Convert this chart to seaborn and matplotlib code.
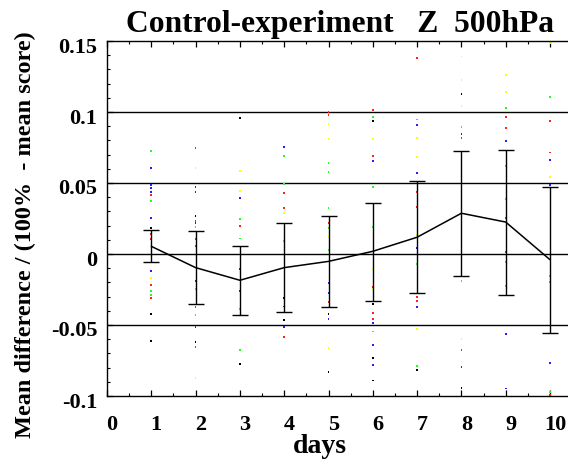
import matplotlib
matplotlib.use("Agg")
import matplotlib.pyplot as plt
import matplotlib.transforms as mtransforms
from matplotlib.ticker import MultipleLocator, FixedLocator
import numpy as np
import pandas as pd
import seaborn as sns

# Forecast days and the mean score difference with its confidence range
days = [1, 2, 3, 4, 5, 6, 7, 8, 9, 10]
mean_diff = [0.0054, -0.0096, -0.0185, -0.0096, -0.0052, 0.0019, 0.0118, 0.0287, 0.0225, -0.0040]
upper = [0.0167, 0.0162, 0.0058, 0.0216, 0.0268, 0.0361, 0.0512, 0.0728, 0.0735, 0.0472]
lower = [-0.0054, -0.0352, -0.0427, -0.0406, -0.0371, -0.0329, -0.0275, -0.0157, -0.0289, -0.0558]

# Individual case differences (day, value, colour code)
case_day = (
    [1] * 19 + [2] * 18 + [3] * 12 + [4] * 13 + [5] * 18
    + [6] * 20 + [7] * 17 + [8] * 17 + [9] * 14 + [10] * 12
)
case_value = [
    0.0723, 0.0604, 0.0488, 0.0463, 0.0439, 0.0415, 0.0371, 0.0251, 0.0183, 0.0141,
    0.0106, -0.0122, -0.0171, -0.0216, -0.0261, -0.0289, -0.0312, -0.0425, -0.0613,
    0.0746, 0.0608, 0.0470, 0.0434, 0.0270, 0.0235, 0.0216, 0.0188, 0.0106, 0.0058,
    -0.0190, -0.0246, -0.0371, -0.0430, -0.0512, -0.0622, -0.0657, -0.0875,
    0.0960, 0.0587, 0.0446, 0.0392, 0.0246, 0.0195, 0.0110, -0.0106, -0.0258, -0.0387,
    -0.0676, -0.0772,
    0.0754, 0.0688, 0.0491, 0.0430, 0.0326, 0.0289, 0.0094, 0.0024, -0.0310, -0.0370,
    -0.0463, -0.0512, -0.0585,
    0.0998, 0.0979, 0.0913, 0.0808, 0.0639, 0.0575, 0.0324, 0.0216, 0.0183, 0.0122,
    0.0028, -0.0204, -0.0275, -0.0340, -0.0423, -0.0458, -0.0664, -0.0833,
    0.1016, 0.0967, 0.0939, 0.0808, 0.0690, 0.0653, 0.0470, 0.0188, -0.0106, -0.0235,
    -0.0249, -0.0352, -0.0418, -0.0458, -0.0484, -0.0545, -0.0639, -0.0735, -0.0784, -0.0890,
    0.1382, 0.0948, 0.0911, 0.0815, 0.0685, 0.0568, 0.0434, 0.0329, 0.0134, 0.0040,
    -0.0070, -0.0305, -0.0329, -0.0371, -0.0528, -0.0787, -0.0819,
    0.1390, 0.1225, 0.1125, 0.1040, 0.0897, 0.0843, 0.0815, 0.0481, 0.0394, 0.0206,
    0.0125, -0.0087, -0.0190, -0.0599, -0.0678, -0.0798, -0.0941,
    0.1258, 0.1143, 0.1030, 0.0965, 0.0887, 0.0798, 0.0622, 0.0387, 0.0254, 0.0012,
    -0.0059, -0.0223, -0.0563, -0.0948,
    0.1484, 0.1103, 0.0939, 0.0714, 0.0660, 0.0540, 0.0486, -0.0153, -0.0199, -0.0768,
    -0.0970, -0.0993,
]
case_color = list(
    "gbbbbrgbkrrbyrggrkk"
    "rybbkrbgrrbgrgbkry"
    "kyybgrgbbggk"
    "bggrrygykbkbr"
    "rryygggrgygbbrkbyk"
    "rgkyrbggyrykrrbgbkbk"
    "rgbyybrrybgrrbygk"
    "yykygbrggrbrgyrbk"
    "yygrrbggrrggbb"
    "ygrrbybggbgr"
)

x_ticks = [0, 1, 2, 3, 4, 5, 6, 7, 8, 9, 10]
y_ticks = [-0.1, -0.05, 0, 0.05, 0.1, 0.15]
y_tick_labels = ["-0.1", "-0.05", "0", "0.05", "0.1", "0.15"]
grid_levels = [-0.05, 0, 0.05, 0.1]

sns.set_theme(style="ticks")
plt.rcParams["font.family"] = ["Liberation Serif", "DejaVu Serif"]
plt.rcParams["font.weight"] = "bold"
plt.rcParams["text.color"] = "black"
plt.rcParams["axes.labelcolor"] = "black"
plt.rcParams["xtick.color"] = "black"
plt.rcParams["ytick.color"] = "black"
plt.rcParams["xtick.labelcolor"] = "black"
plt.rcParams["ytick.labelcolor"] = "black"

summary = pd.DataFrame({"day": days, "mean": mean_diff, "lower": lower, "upper": upper})
cases = pd.DataFrame({"day": case_day, "value": case_value, "colour": case_color})

fig = plt.figure(figsize=(5.68, 4.60), dpi=100)
fig.patch.set_facecolor("white")
ax = fig.add_axes([107 / 568, 63 / 460, 461 / 568, 355 / 460])
ax.set_facecolor("white")

for lev in grid_levels:
    ax.axhline(lev, color="black", lw=1.0, zorder=1)

palette = {"r": "#ff2020", "g": "#20ff20", "b": "#2020ff", "y": "#ffff00", "k": "#000000"}
sns.scatterplot(data=cases, x="day", y="value", hue="colour", palette=palette,
                marker="s", s=1.6, linewidth=0, legend=False, ax=ax, zorder=2)

ax.errorbar(summary["day"], summary["mean"],
            yerr=[summary["mean"] - summary["lower"], summary["upper"] - summary["mean"]],
            fmt="none", ecolor="black", elinewidth=1.0, capsize=5.8, capthick=1.0, zorder=3)
sns.lineplot(data=summary, x="day", y="mean", color="black", lw=1.1, ax=ax, zorder=4)

ax.set_xlim(0, 461 / 44.3)
ax.set_ylim(-0.1, 0.15)
ax.set_xlabel("")
ax.set_ylabel("")

ax.xaxis.set_major_locator(FixedLocator(x_ticks))
ax.xaxis.set_minor_locator(MultipleLocator(0.5))
ax.set_xticklabels([str(t) for t in x_ticks])
ax.yaxis.set_major_locator(FixedLocator(y_ticks))
ax.yaxis.set_minor_locator(MultipleLocator(0.01))
ax.set_yticklabels(y_tick_labels)

ax.tick_params(axis="both", which="both", direction="in", color="black",
               labelcolor="black", top=True, bottom=True, left=True, right=False)
ax.tick_params(axis="both", which="major", length=4, width=0.9, labelsize=16)
ax.tick_params(axis="both", which="minor", length=2.2, width=0.8)
ax.tick_params(axis="x", which="major", pad=13)
ax.tick_params(axis="y", which="major", pad=7)

shift_x = mtransforms.ScaledTranslation(5 / 100, 0, fig.dpi_scale_trans)
for lbl in ax.get_xticklabels():
    lbl.set_transform(lbl.get_transform() + shift_x)
    lbl.set_fontweight("bold")
    lbl.set_color("black")
shift_y = mtransforms.ScaledTranslation(0, -3 / 100, fig.dpi_scale_trans)
for lbl in ax.get_yticklabels():
    lbl.set_transform(lbl.get_transform() + shift_y)
    lbl.set_fontweight("bold")
    lbl.set_color("black")

for side in ["left", "top", "bottom"]:
    ax.spines[side].set_color("black")
    ax.spines[side].set_linewidth(1.0)
ax.spines["right"].set_visible(False)

fig.text(340 / 568, 1 - 32 / 460, "Control-experiment   Z  500hPa",
         ha="center", va="baseline", fontsize=22.7, fontweight="bold", color="black")
fig.text(320 / 568, 1 - 453 / 460, "days", ha="center", va="baseline",
         fontsize=20, fontweight="bold", color="black")
fig.text(25 / 568, 1 - 235 / 460, "Mean difference / (100%  - mean score)",
         rotation=90, ha="center", va="center", fontsize=17.5, fontweight="bold",
         color="black")

fig.savefig("out.png", dpi=100, facecolor="white")
